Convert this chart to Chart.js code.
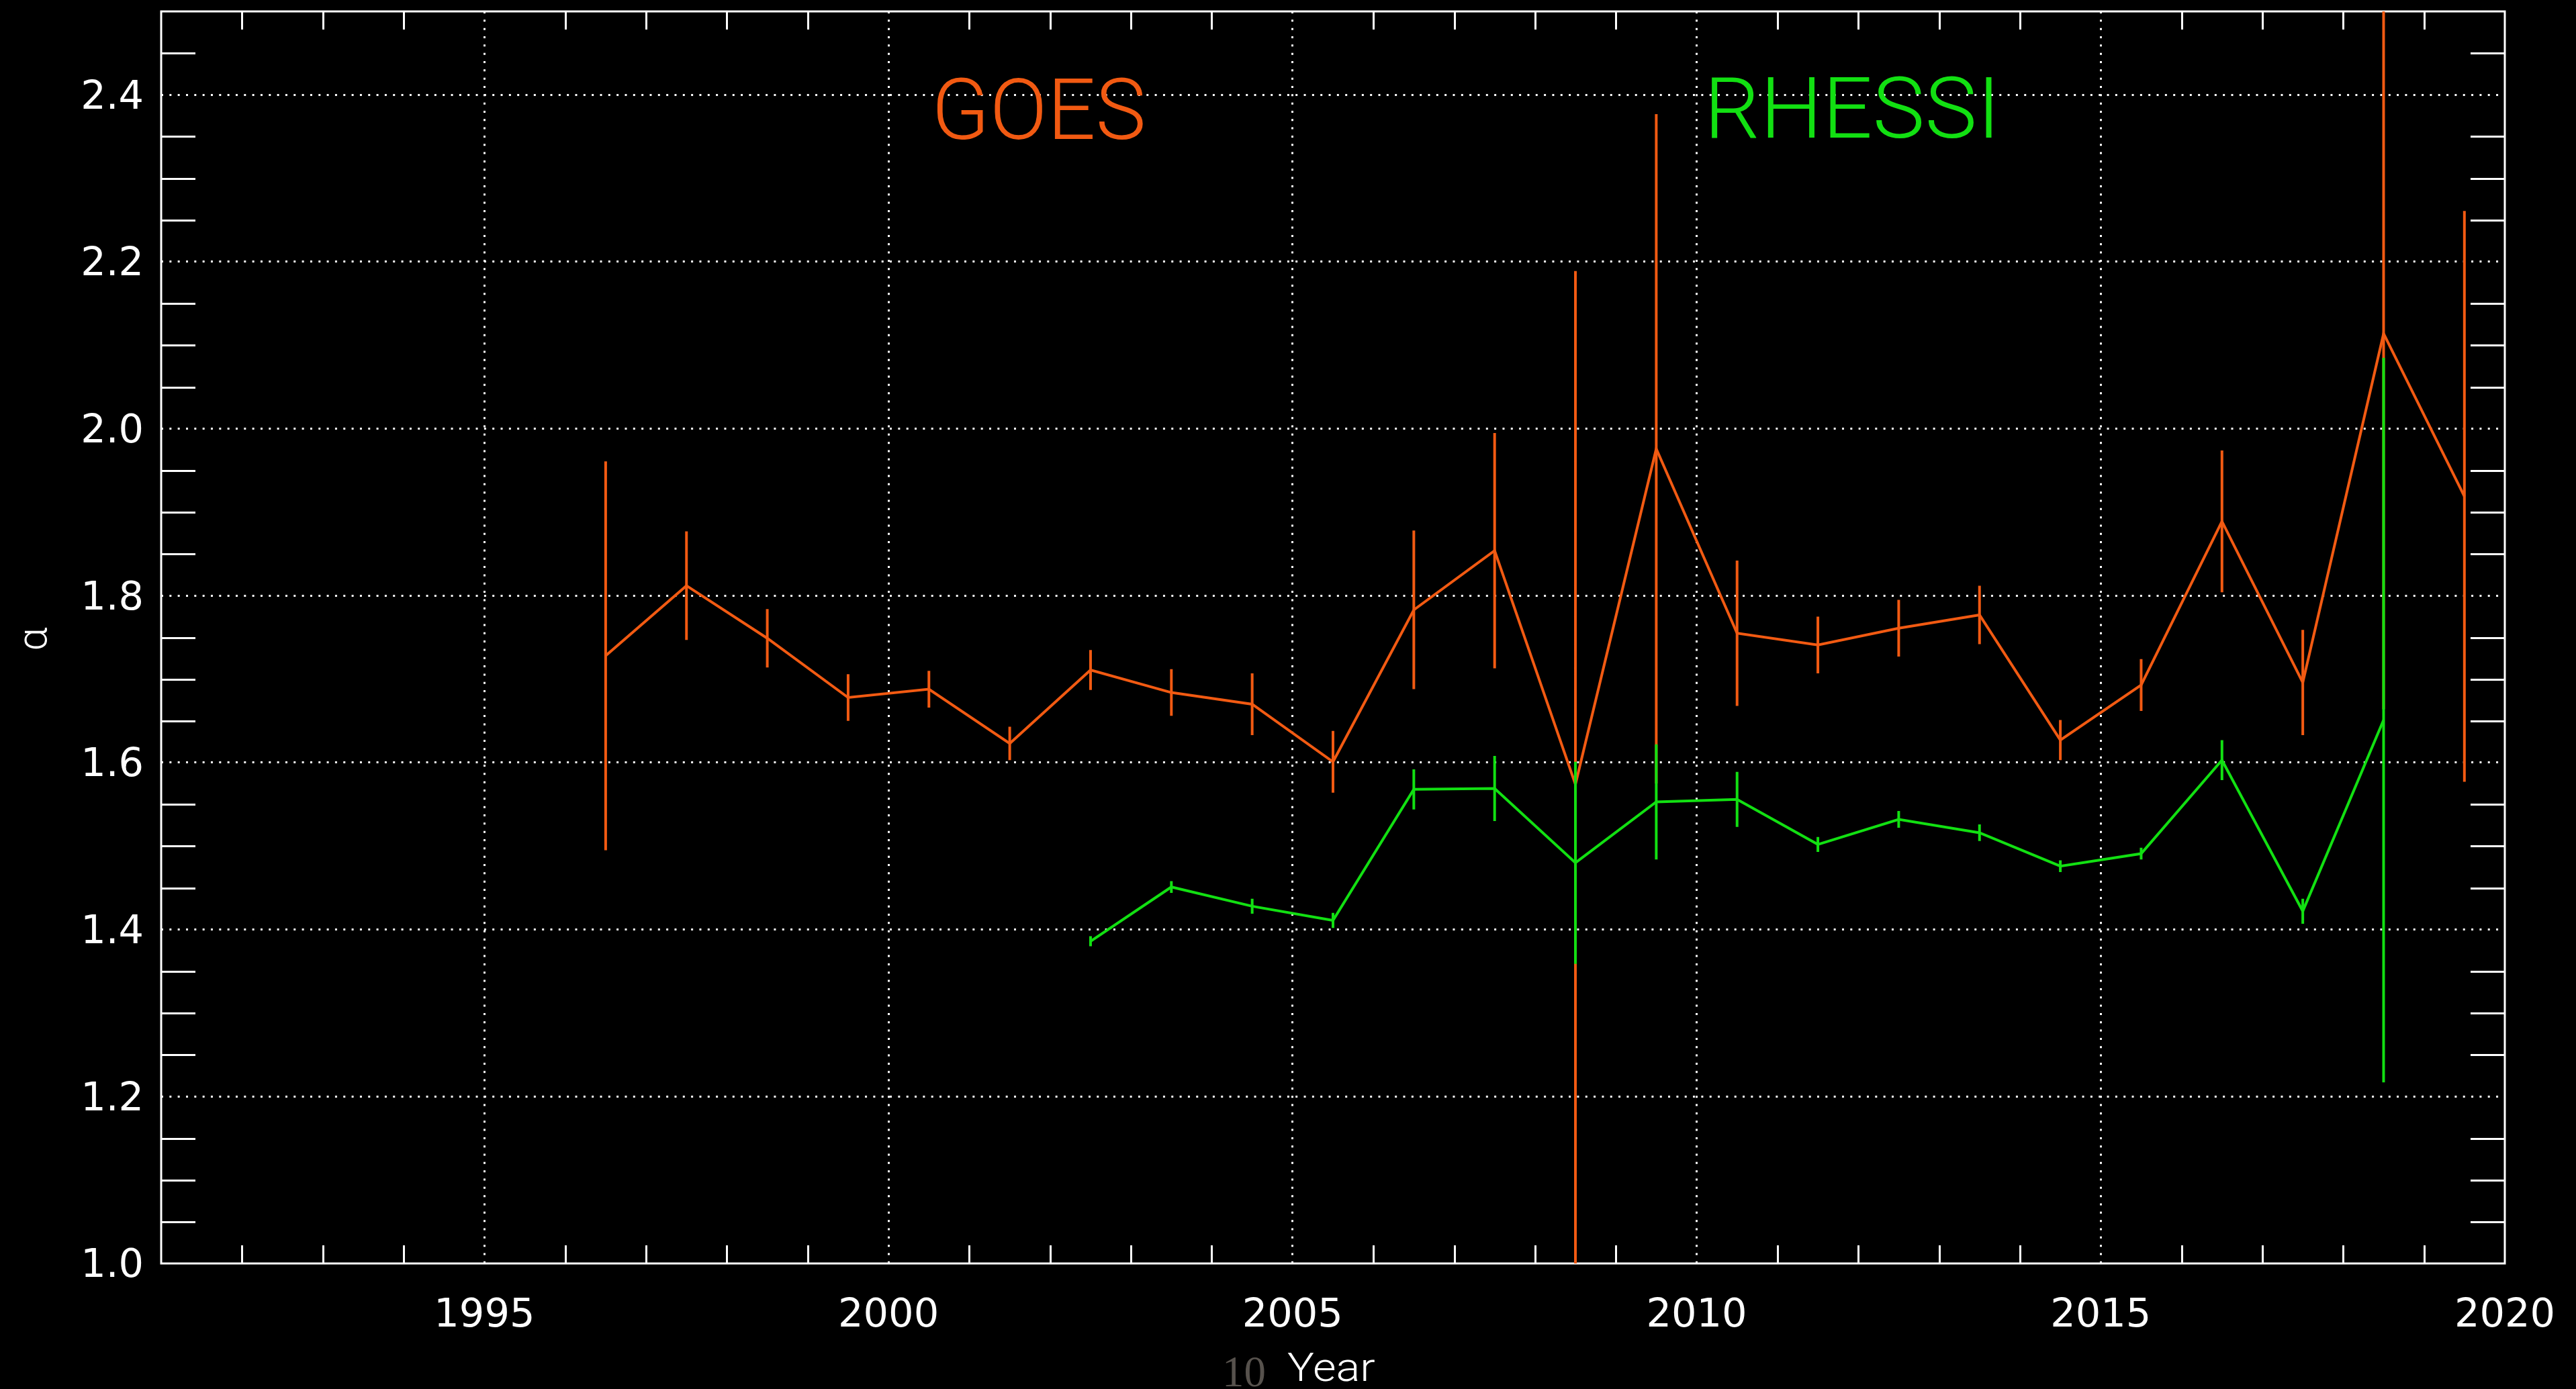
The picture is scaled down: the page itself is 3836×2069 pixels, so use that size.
<!DOCTYPE html>
<html>
<head>
<meta charset="utf-8">
<title>alpha vs year</title>
<script src="https://cdn.jsdelivr.net/npm/chart.js@4.4.1/dist/chart.umd.min.js"></script>
<style>
    html, body { margin: 0; padding: 0; background: #000; overflow: hidden; }
    canvas { display: block; }
</style>
</head>
<body>
<canvas id="chart" width="3836" height="2069"></canvas>
<script>
// values (year bins centred on .5)
const goesYears = [1996.5, 1997.5, 1998.5, 1999.5, 2000.5, 2001.5, 2002.5, 2003.5, 2004.5, 2005.5, 2006.5, 2007.5,
    2008.5, 2009.5, 2010.5, 2011.5, 2012.5, 2013.5, 2014.5, 2015.5, 2016.5, 2017.5, 2018.5, 2019.5];
const goesAlpha = [1.728, 1.812, 1.749, 1.678, 1.688, 1.623, 1.711, 1.684, 1.670, 1.601, 1.783, 1.854,
    1.574, 1.976, 1.755, 1.741, 1.761, 1.777, 1.627, 1.693, 1.889, 1.696, 2.114, 1.919];
const goesErr = [0.233, 0.065, 0.035, 0.028, 0.022, 0.020, 0.024, 0.028, 0.037, 0.037, 0.095, 0.141,
    0.615, 0.401, 0.087, 0.034, 0.034, 0.035, 0.024, 0.031, 0.085, 0.063, 0.450, 0.342];

const rhessiYears = [2002.5, 2003.5, 2004.5, 2005.5, 2006.5, 2007.5, 2008.5, 2009.5, 2010.5, 2011.5, 2012.5,
    2013.5, 2014.5, 2015.5, 2016.5, 2017.5, 2018.5];
const rhessiAlpha = [1.386, 1.451, 1.428, 1.411, 1.568, 1.569, 1.480, 1.553, 1.556, 1.502, 1.532,
    1.516, 1.476, 1.491, 1.603, 1.422, 1.651];
const rhessiErr = [0.006, 0.007, 0.009, 0.009, 0.024, 0.039, 0.121, 0.069, 0.033, 0.009, 0.010,
    0.010, 0.007, 0.007, 0.024, 0.015, 0.434];

const xTicks = [1995, 2000, 2005, 2010, 2015, 2020];
const yTicks = [1.0, 1.2, 1.4, 1.6, 1.8, 2.0, 2.2, 2.4];
const xRange = [1991, 2020];
const yRange = [1.0, 2.5];

const goesColor = '#f25a12';
const rhessiColor = '#12e012';
const idlFont = 'Roboto';

const toPoints = (xs, ys) => xs.map((x, i) => ({ x, y: ys[i] }));

// ink-fitted text, so the stroke font lands where the IDL one did
const fitText = (ctx, text, left, baseline, width, font, color) => {
    ctx.font = font;
    const m = ctx.measureText(text);
    const ink = m.actualBoundingBoxLeft + m.actualBoundingBoxRight;
    const sx = width / ink;
    ctx.save();
    ctx.translate(left + m.actualBoundingBoxLeft * sx, baseline);
    ctx.scale(sx, 1);
    ctx.fillStyle = color;
    ctx.textAlign = 'left';
    ctx.textBaseline = 'alphabetic';
    ctx.fillText(text, 0, 0);
    ctx.restore();
};

const errorBars = {
    id: 'errorBars',
    afterDatasetDraw(chart, args) {
        const ds = chart.data.datasets[args.index];
        if (!ds.errors) return;

        const { ctx, chartArea: a, scales: { x, y } } = chart;
        ctx.save();
        ctx.beginPath();
        ctx.rect(a.left, a.top, a.width, a.height);
        ctx.clip();
        ctx.strokeStyle = ds.borderColor;
        ctx.lineWidth = 4;
        ctx.beginPath();
        ds.data.forEach((p, i) => {
            const px = x.getPixelForValue(p.x);
            ctx.moveTo(px, y.getPixelForValue(p.y - ds.errors[i]));
            ctx.lineTo(px, y.getPixelForValue(p.y + ds.errors[i]));
        });
        ctx.stroke();
        ctx.restore();
    },
};

// box round the plot plus the inward minor ticks on all four sides
const idlFrame = {
    id: 'idlFrame',
    beforeDatasetsDraw(chart) {
        const { ctx, chartArea: a, scales: { x, y } } = chart;
        ctx.save();
        ctx.strokeStyle = '#ffffff';
        ctx.lineWidth = 3;
        ctx.beginPath();
        for (let yr = xRange[0] + 1; yr < xRange[1]; yr++) {
            if (yr % 5 === 0) continue;
            const px = Math.round(x.getPixelForValue(yr)) + 0.5;
            ctx.moveTo(px, a.bottom);
            ctx.lineTo(px, a.bottom - 27);
            ctx.moveTo(px, a.top);
            ctx.lineTo(px, a.top + 27);
        }
        for (let i = 1; i < 30; i++) {
            if (i % 4 === 0) continue;
            const py = Math.round(y.getPixelForValue(yRange[0] + i * 0.05)) + 0.5;
            ctx.moveTo(a.left, py);
            ctx.lineTo(a.left + 51, py);
            ctx.moveTo(a.right, py);
            ctx.lineTo(a.right - 51, py);
        }
        ctx.stroke();
        ctx.strokeRect(a.left, a.top, a.width, a.height);
        ctx.restore();
    },
    afterDraw(chart) {
        const { ctx } = chart;
        fitText(ctx, 'GOES', 1395, 207, 307, `300 126px ${idlFont}`, goesColor);
        fitText(ctx, 'RHESSI', 2549, 205, 417, `300 126px ${idlFont}`, rhessiColor);
        fitText(ctx, 'Year', 1917, 2057, 131, `300 59px ${idlFont}`, '#ffffff');
        fitText(ctx, '10', 1825, 2065, 58, '66px "Liberation Serif"', '#57524d');

        ctx.save();
        ctx.translate(53, 952);
        ctx.rotate(-Math.PI / 2);
        ctx.font = `300 62px ${idlFont}`;
        ctx.fillStyle = '#ffffff';
        ctx.textAlign = 'center';
        ctx.textBaseline = 'alphabetic';
        ctx.fillText('α', 0, 16);
        ctx.restore();
    },
};

const tickFont = { family: '"DejaVu Sans"', size: 59 };
const gridColor = (edge) => (c) => (c.tick && c.tick.value === edge ? 'rgba(0,0,0,0)' : '#ffffff');

new Chart(document.getElementById('chart'), {
    type: 'line',
    data: {
        datasets: [{
            label: 'GOES',
            data: toPoints(goesYears, goesAlpha),
            errors: goesErr,
            borderColor: goesColor,
            borderWidth: 4,
            pointRadius: 0,
            tension: 0,
            order: 2,
        }, {
            label: 'RHESSI',
            data: toPoints(rhessiYears, rhessiAlpha),
            errors: rhessiErr,
            borderColor: rhessiColor,
            borderWidth: 4,
            pointRadius: 0,
            tension: 0,
            order: 1,
        }],
    },
    options: {
        responsive: false,
        devicePixelRatio: 1,
        animation: false,
        layout: { padding: { top: 17, right: 106, bottom: 0, left: 0 } },
        plugins: { legend: { display: false }, tooltip: { enabled: false } },
        scales: {
            x: {
                type: 'linear',
                min: xRange[0],
                max: xRange[1],
                afterBuildTicks: (scale) => { scale.ticks = xTicks.map((value) => ({ value })); },
                afterFit: (scale) => {
                    scale.height = 187;
                    scale.paddingLeft = 0;
                    scale.paddingRight = 0;
                },
                ticks: {
                    autoSkip: false,
                    maxRotation: 0,
                    padding: 43,
                    color: '#ffffff',
                    font: tickFont,
                    callback: (v) => String(v),
                },
                grid: { color: gridColor(xRange[1]), lineWidth: 3, drawTicks: false },
                border: { display: false, dash: [3, 9.33] },
            },
            y: {
                min: yRange[0],
                max: yRange[1],
                afterBuildTicks: (scale) => { scale.ticks = yTicks.map((value) => ({ value })); },
                afterFit: (scale) => {
                    scale.width = 240;
                    scale.paddingTop = 0;
                    scale.paddingBottom = 0;
                },
                ticks: {
                    padding: 26,
                    labelOffset: 5,
                    color: '#ffffff',
                    font: tickFont,
                    callback: (v) => v.toFixed(1),
                },
                grid: { color: gridColor(yRange[0]), lineWidth: 3, drawTicks: false },
                border: { display: false, dash: [3, 9.33] },
            },
        },
    },
    plugins: [errorBars, idlFrame],
});
</script>
</body>
</html>
